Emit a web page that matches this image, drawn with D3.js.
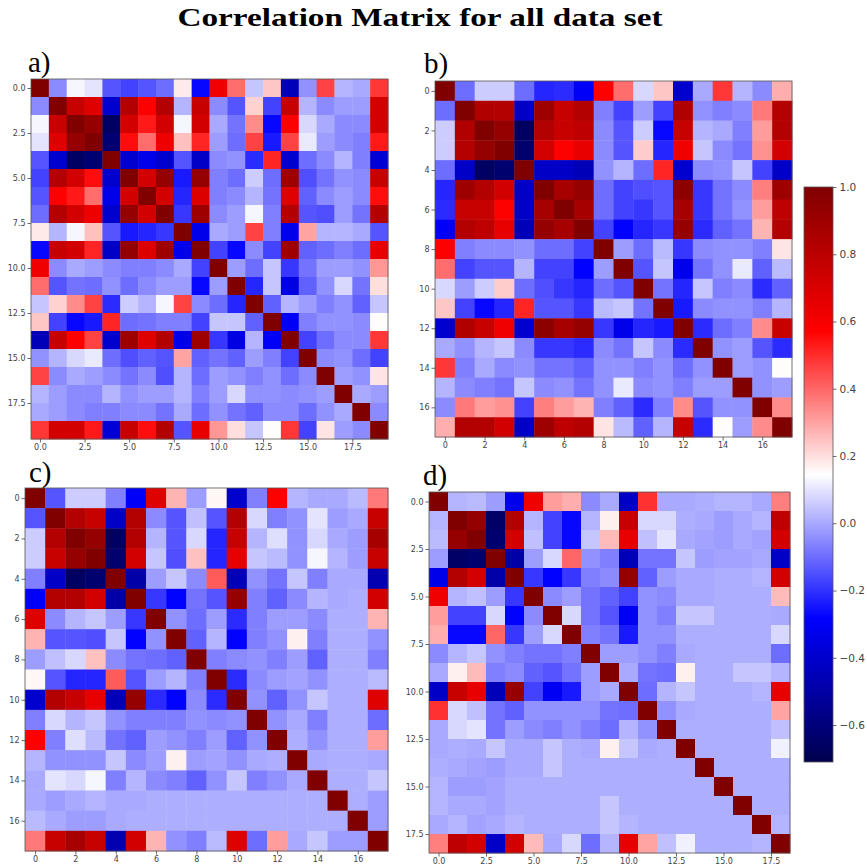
<!DOCTYPE html>
<html>
<head>
<meta charset="utf-8">
<script src="https://cdn.jsdelivr.net/npm/d3@7"></script>
<style>
  body { margin: 0; background: #fff; }
  .tick text { font-family: "DejaVu Sans", sans-serif; fill: #444; }
  .tick line { stroke: #444; }
</style>
</head>
<body>
<svg id="fig" width="867" height="865"></svg>
<script>
// lower triangles of the correlation matrices (row i holds cols 0..i)
var panelA = [
  [1],
  [-0.05,1],
  [0.13,0.76,1],
  [0.10,0.68,0.93,1],
  [-0.14,-0.40,-0.66,-0.62,1],
  [-0.17,0.83,0.72,0.55,-0.40,1],
  [-0.14,0.58,0.53,0.39,-0.33,0.72,1],
  [-0.10,0.83,0.72,0.63,-0.40,0.93,0.72,1],
  [0.18,0.02,0.13,0.25,-0.14,-0.24,-0.22,-0.19,1],
  [-0.27,0.76,0.72,0.51,-0.42,0.93,0.69,0.90,-0.33,1],
  [0.62,-0.05,0.00,-0.02,-0.05,-0.07,-0.07,-0.05,0.00,-0.17,1],
  [0.39,-0.14,-0.09,-0.10,-0.04,-0.10,-0.05,-0.02,-0.02,-0.27,-0.02,1],
  [0.05,0.22,0.34,0.46,-0.21,0.06,0.02,0.13,0.46,-0.05,-0.10,-0.22,1],
  [0.24,-0.17,-0.27,-0.24,0.51,-0.10,-0.09,-0.07,-0.07,-0.17,0.05,0.05,-0.12,1],
  [-0.45,0.76,0.58,0.46,-0.40,0.90,0.68,0.83,-0.33,0.90,-0.19,-0.35,0.02,-0.30,1],
  [-0.04,0.02,0.08,0.11,-0.10,-0.15,-0.12,-0.14,0.30,-0.12,-0.09,-0.12,-0.02,-0.07,-0.17,1],
  [0.46,-0.05,0.00,-0.02,-0.05,-0.09,-0.05,-0.15,0.02,-0.10,-0.02,-0.04,-0.07,-0.04,-0.10,-0.05,1],
  [0.02,-0.02,-0.05,-0.05,0.02,-0.04,-0.02,-0.02,0.02,-0.07,-0.02,0.08,-0.04,-0.04,-0.05,-0.04,-0.02,1],
  [0.00,-0.02,-0.05,-0.07,-0.07,-0.05,-0.05,-0.09,0.00,-0.10,-0.04,-0.09,-0.12,-0.05,-0.05,-0.10,-0.04,0.00,1],
  [0.48,0.72,0.72,0.53,-0.38,0.76,0.55,0.83,-0.14,0.65,0.32,0.20,0.05,0.15,0.48,-0.17,0.19,-0.02,-0.05,1]
];

var panelB = [
  [1],
  [-0.10,1],
  [0.06,0.84,1],
  [0.06,0.83,0.93,1],
  [-0.10,-0.42,-0.66,-0.63,1],
  [-0.22,0.90,0.83,0.72,-0.42,1],
  [-0.21,0.76,0.76,0.58,-0.42,0.87,1],
  [-0.30,0.83,0.79,0.65,-0.45,0.93,0.87,1],
  [0.58,-0.07,-0.05,-0.05,-0.04,-0.10,-0.10,-0.17,1],
  [0.39,-0.17,-0.14,-0.14,0.02,-0.17,-0.17,-0.28,-0.02,1],
  [0.08,-0.02,0.06,0.23,-0.10,-0.15,-0.19,-0.22,-0.10,-0.14,1],
  [0.24,-0.17,-0.27,-0.22,0.51,-0.14,-0.14,-0.19,0.03,0.05,-0.09,1],
  [-0.40,0.84,0.76,0.62,-0.40,0.96,0.87,0.93,-0.19,-0.33,-0.22,-0.24,1],
  [0.00,-0.04,0.02,0.05,-0.05,-0.19,-0.19,-0.21,-0.05,-0.09,0.05,-0.05,-0.21,1],
  [0.48,-0.07,0.00,-0.05,-0.04,-0.09,-0.09,-0.12,-0.04,-0.04,-0.07,-0.04,-0.10,-0.04,1],
  [0.02,-0.05,-0.07,-0.09,0.05,-0.05,-0.04,-0.09,-0.04,0.11,-0.05,-0.04,-0.07,-0.02,-0.02,1],
  [-0.05,0.37,0.31,0.33,-0.17,0.36,0.31,0.27,-0.07,-0.12,-0.21,-0.07,0.34,-0.14,-0.04,-0.04,1],
  [0.28,0.83,0.83,0.72,-0.42,0.90,0.79,0.83,0.19,0.03,-0.12,0.02,0.76,-0.21,0.15,-0.02,0.34,1]
];

var panelC = [
  [1],
  [-0.14,1],
  [0.06,0.83,1],
  [0.06,0.76,0.93,1],
  [-0.07,-0.42,-0.66,-0.63,1],
  [-0.30,0.83,0.83,0.72,-0.49,1],
  [0.68,-0.05,0.02,0.05,-0.02,-0.19,1],
  [0.27,-0.14,-0.14,-0.15,0.05,-0.28,-0.04,1],
  [-0.02,0.04,0.08,0.25,-0.05,-0.09,-0.10,-0.12,1],
  [0.16,-0.14,-0.22,-0.22,0.42,-0.14,-0.02,0.02,-0.07,1],
  [-0.40,0.83,0.76,0.65,-0.45,0.93,-0.21,-0.28,-0.05,-0.21,1],
  [-0.07,0.08,0.02,0.05,-0.04,-0.07,-0.07,-0.07,-0.04,-0.05,-0.04,1],
  [0.58,-0.07,0.09,0.03,-0.09,-0.12,-0.02,-0.04,-0.07,-0.02,-0.12,-0.04,1],
  [0.02,-0.04,-0.04,-0.04,0.05,-0.05,-0.02,0.17,-0.02,-0.01,-0.04,0.00,0.01,1],
  [0.00,0.10,0.08,0.13,-0.07,0.02,-0.05,-0.07,-0.12,-0.04,0.05,-0.07,-0.04,0.00,1],
  [0.00,-0.02,0.00,0.02,0.00,0.00,0.01,0.01,0.01,0.01,0.01,0.01,0.01,0.01,0.01,1],
  [0.03,0.00,-0.02,-0.02,0.00,0.01,0.01,0.01,0.01,0.01,0.01,0.01,0.01,0.01,0.01,0.01,1],
  [0.37,0.76,0.87,0.76,-0.47,0.72,0.27,-0.04,-0.07,0.03,0.68,-0.10,0.31,0.00,0.05,-0.02,-0.02,1]
];

var panelD = [
  [1],
  [0.02,1],
  [0.03,0.93,1],
  [-0.02,-0.65,-0.63,1],
  [-0.33,0.83,0.72,-0.49,1],
  [0.62,0.02,0.04,-0.02,-0.19,1],
  [0.31,-0.17,-0.17,0.08,-0.28,-0.05,1],
  [0.28,-0.27,-0.27,0.40,-0.19,-0.02,0.08,1],
  [-0.05,0.02,0.05,-0.04,-0.07,-0.09,-0.09,-0.07,1],
  [0.00,0.17,0.26,-0.07,-0.05,-0.12,-0.14,-0.09,-0.02,1],
  [-0.42,0.76,0.65,-0.45,0.93,-0.17,-0.31,-0.24,-0.02,0.00,1],
  [0.49,0.08,0.04,-0.09,-0.12,-0.04,-0.04,-0.04,-0.04,-0.09,-0.10,1],
  [0.00,0.08,0.10,-0.09,-0.02,-0.05,-0.07,-0.04,-0.07,-0.10,0.02,-0.04,1],
  [0.00,0.01,0.00,0.05,0.00,0.00,0.05,0.01,0.00,0.17,0.05,0.00,0.01,1],
  [0.01,0.00,-0.01,-0.02,0.00,0.00,0.05,0.01,0.01,0.01,0.01,0.01,0.01,0.01,1],
  [0.02,-0.02,-0.02,-0.01,0.01,0.01,0.01,0.01,0.01,0.01,0.01,0.01,0.01,0.01,0.01,1],
  [0.02,0.00,0.00,-0.01,0.01,0.01,0.01,0.01,0.01,0.05,0.01,0.01,0.01,0.01,0.01,0.01,1],
  [0.00,0.02,-0.01,0.00,0.02,0.01,0.01,0.01,0.01,0.05,0.02,0.01,0.01,0.01,0.01,0.01,0.01,1],
  [0.36,0.79,0.72,-0.42,0.72,0.26,0.00,0.08,-0.10,0.02,0.65,0.30,0.04,0.12,0.01,0.01,0.01,0.02,1]
];

var panelLabels = ["a)", "b)", "c)", "d)"];
var ticks20 = [0, 2.5, 5, 7.5, 10, 12.5, 15, 17.5];
var ticks18 = [0, 2, 4, 6, 8, 10, 12, 14, 16];
var cbarTicks = [-0.6, -0.4, -0.2, 0.0, 0.2, 0.4, 0.6, 0.8, 1.0];

var vmin = -0.71, vmax = 1.0;

// matplotlib "seismic"
var seismic = d3.scaleLinear()
  .domain(d3.range(5).map(i => vmin + i * (vmax - vmin) / 4))
  .range(["#00004d", "#0000ff", "#ffffff", "#ff0000", "#800000"])
  .interpolate(d3.interpolateRgb)
  .clamp(true);

// build full symmetric matrix from a lower triangle
function fullMatrix(lower){
  var n = lower.length, cells = [];
  for (var i = 0; i < n; i++){
    for (var j = 0; j < n; j++){
      var v = j <= i ? lower[i][j] : lower[j][i];
      cells.push({row: i, col: j, v: v});
    }
  }
  return cells;
}

var svg = d3.select("#fig");

svg.append("text")
  .attr("x", 420).attr("y", 26)
  .attr("text-anchor", "middle")
  .attr("font-family", "'Liberation Serif', serif")
  .attr("font-weight", "bold")
  .attr("font-size", 26)
  .attr("textLength", 485)
  .attr("lengthAdjust", "spacingAndGlyphs")
  .text("Correlation Matrix for all data set");

var panels = [
  {data: panelA, x0: 31,  x1: 388, y0: 79,  y1: 439, ticks: ticks20, fmt: d3.format(".1f"), lx: 28,  ly: 72},
  {data: panelB, x0: 435, x1: 792, y0: 81,  y1: 437, ticks: ticks18, fmt: d3.format("d"),   lx: 424, ly: 73},
  {data: panelC, x0: 25,  x1: 388, y0: 488, y1: 851, ticks: ticks18, fmt: d3.format("d"),   lx: 29,  ly: 482},
  {data: panelD, x0: 429, x1: 790, y0: 492, y1: 853, ticks: ticks20, fmt: d3.format(".1f"), lx: 423, ly: 485}
];

panels.forEach(function(p, k){
  var n = p.data.length;
  var x = d3.scaleLinear().domain([-0.5, n - 0.5]).range([p.x0, p.x1]);
  var y = d3.scaleLinear().domain([-0.5, n - 0.5]).range([p.y0, p.y1]);
  var cw = x(1) - x(0), ch = y(1) - y(0);

  var g = svg.append("g");
  g.selectAll("rect.cell")
    .data(fullMatrix(p.data))
    .enter().append("rect")
    .attr("class", "cell")
    .attr("x", d => x(d.col - 0.5))
    .attr("y", d => y(d.row - 0.5))
    .attr("width", cw + 0.4)
    .attr("height", ch + 0.4)
    .attr("fill", d => seismic(d.v));

  // frame
  g.append("rect")
    .attr("x", p.x0).attr("y", p.y0)
    .attr("width", p.x1 - p.x0).attr("height", p.y1 - p.y0)
    .attr("fill", "none").attr("stroke", "#555").attr("stroke-width", 0.8);

  var xAxis = g.append("g")
    .attr("transform", `translate(0,${p.y1})`)
    .call(d3.axisBottom(x).tickValues(p.ticks).tickFormat(p.fmt).tickSize(3.5).tickPadding(2));
  var yAxis = g.append("g")
    .attr("transform", `translate(${p.x0},0)`)
    .call(d3.axisLeft(y).tickValues(p.ticks).tickFormat(p.fmt).tickSize(3.5).tickPadding(2));
  [xAxis, yAxis].forEach(function(ax){
    ax.select(".domain").remove();
    ax.selectAll("text").attr("font-size", 8).attr("font-family", "'DejaVu Sans', sans-serif");
    ax.selectAll("line").attr("stroke-width", 0.8);
  });

  svg.append("text")
    .attr("x", p.lx).attr("y", p.ly)
    .attr("font-family", "'Liberation Serif', serif")
    .attr("font-size", 29)
    .text(panelLabels[k]);
});

// colorbar
var cb = {x: 804, w: 29, y0: 187, y1: 762};
var cy = d3.scaleLinear().domain([vmin, vmax]).range([cb.y1, cb.y0]);
var defs = svg.append("defs");
var grad = defs.append("linearGradient")
  .attr("id", "cbgrad").attr("x1", 0).attr("y1", 1).attr("x2", 0).attr("y2", 0);
grad.selectAll("stop")
  .data(d3.range(0, 1.0001, 0.05))
  .enter().append("stop")
  .attr("offset", d => d)
  .attr("stop-color", d => seismic(vmin + d * (vmax - vmin)));

svg.append("rect")
  .attr("x", cb.x).attr("y", cb.y0)
  .attr("width", cb.w).attr("height", cb.y1 - cb.y0)
  .attr("fill", "url(#cbgrad)")
  .attr("stroke", "#555").attr("stroke-width", 0.8);

var cAxis = svg.append("g")
  .attr("transform", `translate(${cb.x + cb.w},0)`)
  .call(d3.axisRight(cy).tickValues(cbarTicks).tickFormat(d3.format(".1f")).tickSize(3.5).tickPadding(3));
cAxis.select(".domain").remove();
cAxis.selectAll("text").attr("font-size", 10.5).attr("font-family", "'DejaVu Sans', sans-serif");
cAxis.selectAll("line").attr("stroke-width", 0.8);
</script>
</body>
</html>
